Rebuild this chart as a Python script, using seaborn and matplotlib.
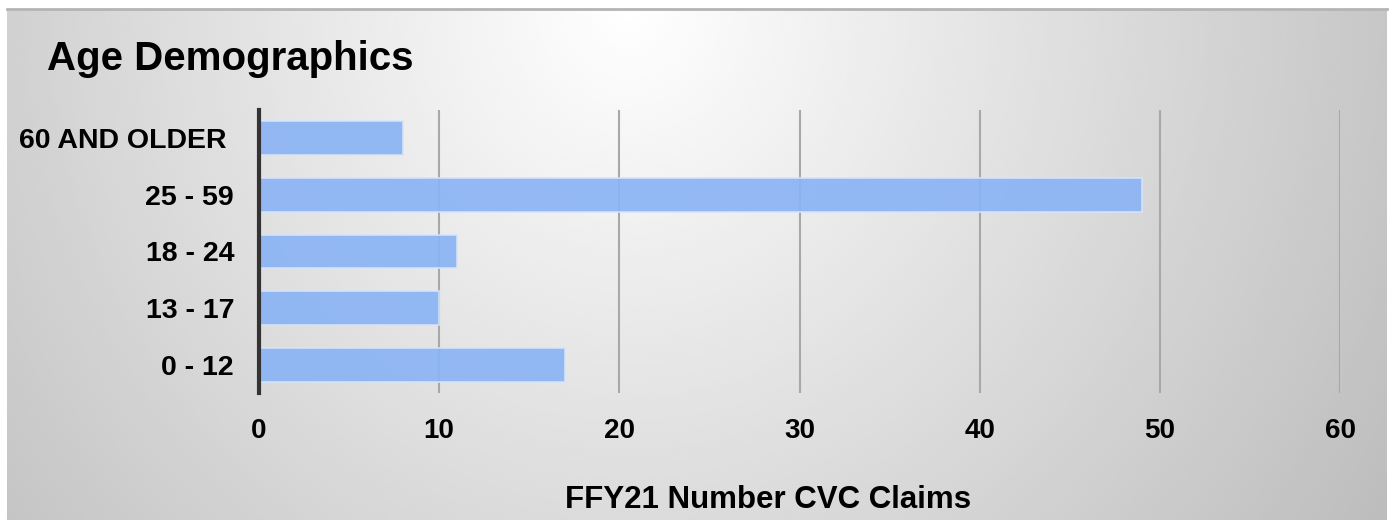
import matplotlib.pyplot as plt
import seaborn as sns
import numpy as np
import pandas as pd

# Data
age_groups = ['60 AND OLDER ', '25 - 59', '18 - 24', '13 - 17', '0 - 12']
claims = [8, 49, 11, 10, 17]
x_ticks = [0, 10, 20, 30, 40, 50, 60]

df = pd.DataFrame({'age': age_groups, 'claims': claims})

sns.set_theme(style='white')
plt.rcParams['font.family'] = ['Liberation Sans', 'DejaVu Sans']

fig = plt.figure(figsize=(13.93, 5.2), dpi=100)
fig.patch.set_facecolor('white')

# gradient background panel (light at top centre, grey towards the edges)
bg = fig.add_axes([7 / 1393, 0, 1 - 13 / 1393, 1 - 9 / 520], zorder=-1)
h, w = 300, 800
yy, xx = np.mgrid[0:h, 0:w]
dx = xx / w - 0.45
dy = yy / h
shade = 1.0 - 0.40 * np.sqrt(dx ** 2 + (0.35 * dy) ** 2)
bg.imshow(shade, cmap='gray', vmin=0, vmax=1, aspect='auto', interpolation='bicubic')
bg.set_xticks([])
bg.set_yticks([])
for s in ['left', 'right', 'bottom']:
    bg.spines[s].set_visible(False)
bg.spines['top'].set_color('#B4B4B4')
bg.spines['top'].set_linewidth(2)

ax = fig.add_axes([259 / 1393, 1 - 393 / 520, (1340 - 259) / 1393, (393 - 110) / 520])
ax.patch.set_alpha(0)

sns.barplot(data=df, x='claims', y='age', orient='h', color='#8BB4F5', saturation=1,
            width=0.6, edgecolor='#D6E4FA', linewidth=1.2, alpha=0.92,
            ax=ax, zorder=2)

ax.set_xlim(0, 60)
ax.set_ylim(4.5, -0.5)
ax.set_xticks(x_ticks)
ax.grid(axis='x', color='#A8A8A8', linewidth=1.5, zorder=0)
ax.set_axisbelow(True)
for s in ['top', 'right', 'bottom']:
    ax.spines[s].set_visible(False)
ax.spines['left'].set_color('#333333')
ax.spines['left'].set_linewidth(3)
ax.tick_params(axis='both', length=0)
ax.tick_params(axis='x', pad=18, labelsize=20)
ax.tick_params(axis='y', pad=18, labelsize=20.5)
for lab in ax.get_xticklabels() + ax.get_yticklabels():
    lab.set_fontweight('bold')
    lab.set_color('black')

ax.set_ylabel('')
ax.set_xlabel('FFY21 Number CVC Claims', fontsize=22.5, fontweight='bold', color='black')
ax.xaxis.set_label_coords((768 - 259) / 1081, -107 / 283)
ax.xaxis.label.set_va('center')

fig.text(47 / 1393, 1 - 70 / 520, 'Age Demographics', fontsize=29, fontweight='bold',
         color='black', va='baseline', ha='left')

plt.savefig('out.png', dpi=100)
